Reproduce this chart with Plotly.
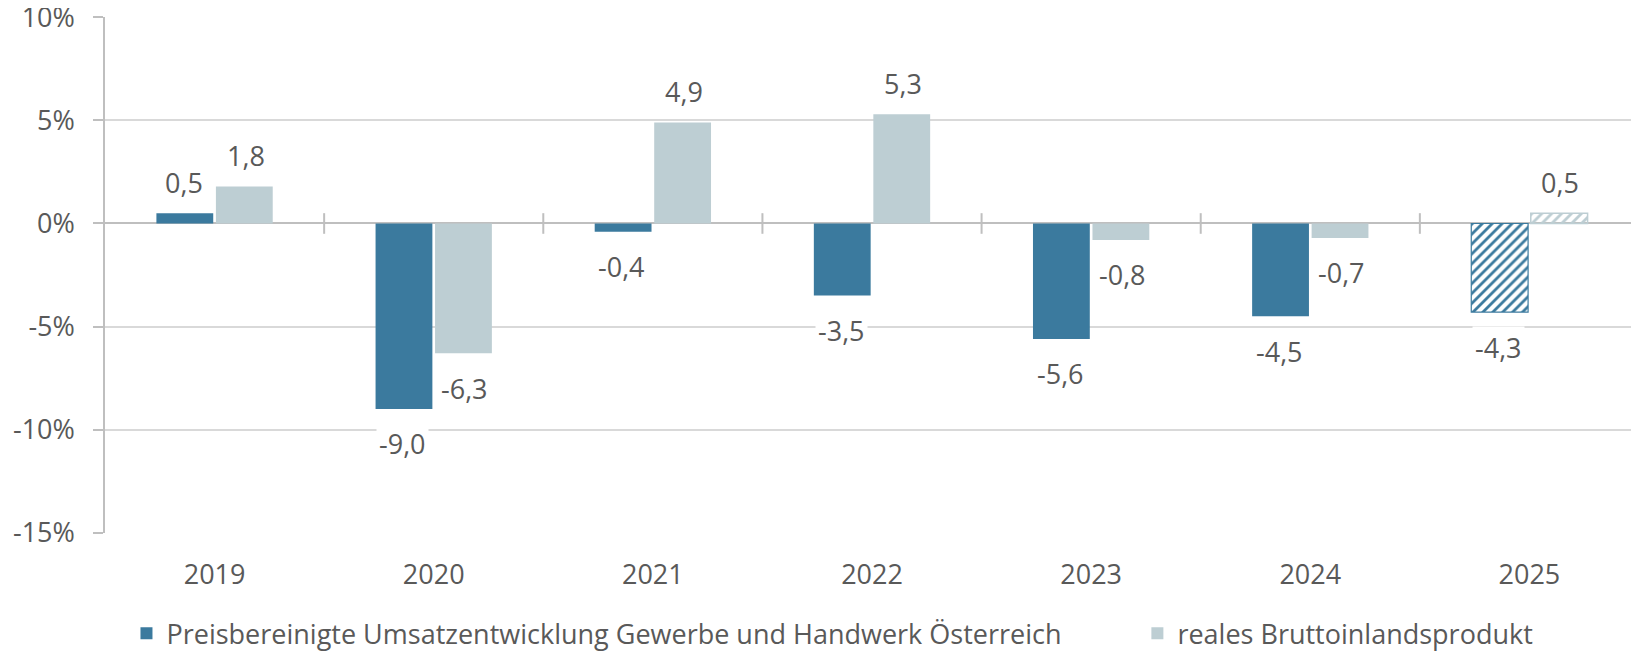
import plotly.graph_objects as go

years = ["2019", "2020", "2021", "2022", "2023", "2024", "2025"]
umsatz = [0.5, -9.0, -0.4, -3.5, -5.6, -4.5, -4.3]
bip = [1.8, -6.3, 4.9, 5.3, -0.8, -0.7, 0.5]
name_umsatz = "Preisbereinigte Umsatzentwicklung Gewerbe und Handwerk Österreich"
name_bip = "reales Bruttoinlandsprodukt"
y_ticks = [10, 5, 0, -5, -10, -15]
y_tick_text = ["10%", "5%", "0%", "-5%", "-10%", "-15%"]
forecast_year = "2025"

BLUE = "#3B7A9E"
GREY = "#BDCED3"
TEXT = "#595959"
FONT = "Open Sans"
FS = 27

def fmt(v):
    return f"{v:.1f}".replace(".", ",")

fig = go.Figure()
is_fc = [y == forecast_year for y in years]
pat = ["/" if f else "" for f in is_fc]

fig.add_trace(go.Bar(
    x=years, y=umsatz, name=name_umsatz, legend="legend",
    marker=dict(color=[BLUE] * len(years),
                line=dict(color=[BLUE if f else "rgba(0,0,0,0)" for f in is_fc], width=1.2),
                pattern=dict(shape=pat, fillmode="replace", size=7, solidity=0.4)),
))
fig.add_trace(go.Bar(
    x=years, y=bip, name=name_bip, legend="legend2",
    marker=dict(color=[GREY] * len(years),
                line=dict(color=[GREY if f else "rgba(0,0,0,0)" for f in is_fc], width=1.5),
                pattern=dict(shape=pat, fillmode="replace", size=7, solidity=0.4)),
))

# data labels
for series, shift in ((umsatz, -31), (bip, 31)):
    for i, v in enumerate(series):
        fig.add_annotation(
            x=i, y=v, xref="x", yref="y", xshift=shift,
            yshift=31 if v >= 0 else -35,
            text=fmt(v), showarrow=False, bgcolor="white",
            font=dict(family=FONT, size=FS, color=TEXT),
            xanchor="center", yanchor="middle", borderpad=2,
        )

# category boundary tick marks crossing the zero line
for i in range(1, len(years)):
    fig.add_shape(type="line", xref="x", yref="y",
                  x0=i - 0.5, x1=i - 0.5, y0=-0.5, y1=0.5,
                  line=dict(color="#BFBFBF", width=2))

leg_font = dict(family=FONT, size=FS, color=TEXT)
fig.update_layout(
    width=1631, height=644,
    margin=dict(l=97, r=0, t=9, b=119, autoexpand=False),
    paper_bgcolor="white", plot_bgcolor="white",
    barmode="group", bargap=0.457, bargroupgap=0.045,
    font=dict(family=FONT, size=FS, color=TEXT),
    showlegend=True,
    legend=dict(orientation="h", x=0.0140, xanchor="left", y=-0.195, yanchor="middle", font=leg_font),
    legend2=dict(orientation="h", x=0.673, xanchor="left", y=-0.195, yanchor="middle", font=leg_font),
)
fig.update_xaxes(
    type="category", range=[-0.5, 6.5], showgrid=False, showline=False, zeroline=False,
    ticks="outside", ticklen=18, tickcolor="rgba(0,0,0,0)",
    tickfont=dict(family=FONT, size=FS, color=TEXT),
)
fig.update_yaxes(
    range=[-15.02, 10.02], tickvals=y_ticks, ticktext=y_tick_text,
    showgrid=True, gridcolor="#D9D9D9", gridwidth=1.5,
    zeroline=True, zerolinecolor="#BFBFBF", zerolinewidth=2,
    showline=True, linecolor="#BFBFBF", linewidth=1.5,
    ticks="outside", ticklen=10, tickcolor="#BFBFBF", tickwidth=1.5,
    ticklabelstandoff=13, ticklabeloverflow="allow",
    tickfont=dict(family=FONT, size=FS, color=TEXT),
)

fig.write_html("out.html")
